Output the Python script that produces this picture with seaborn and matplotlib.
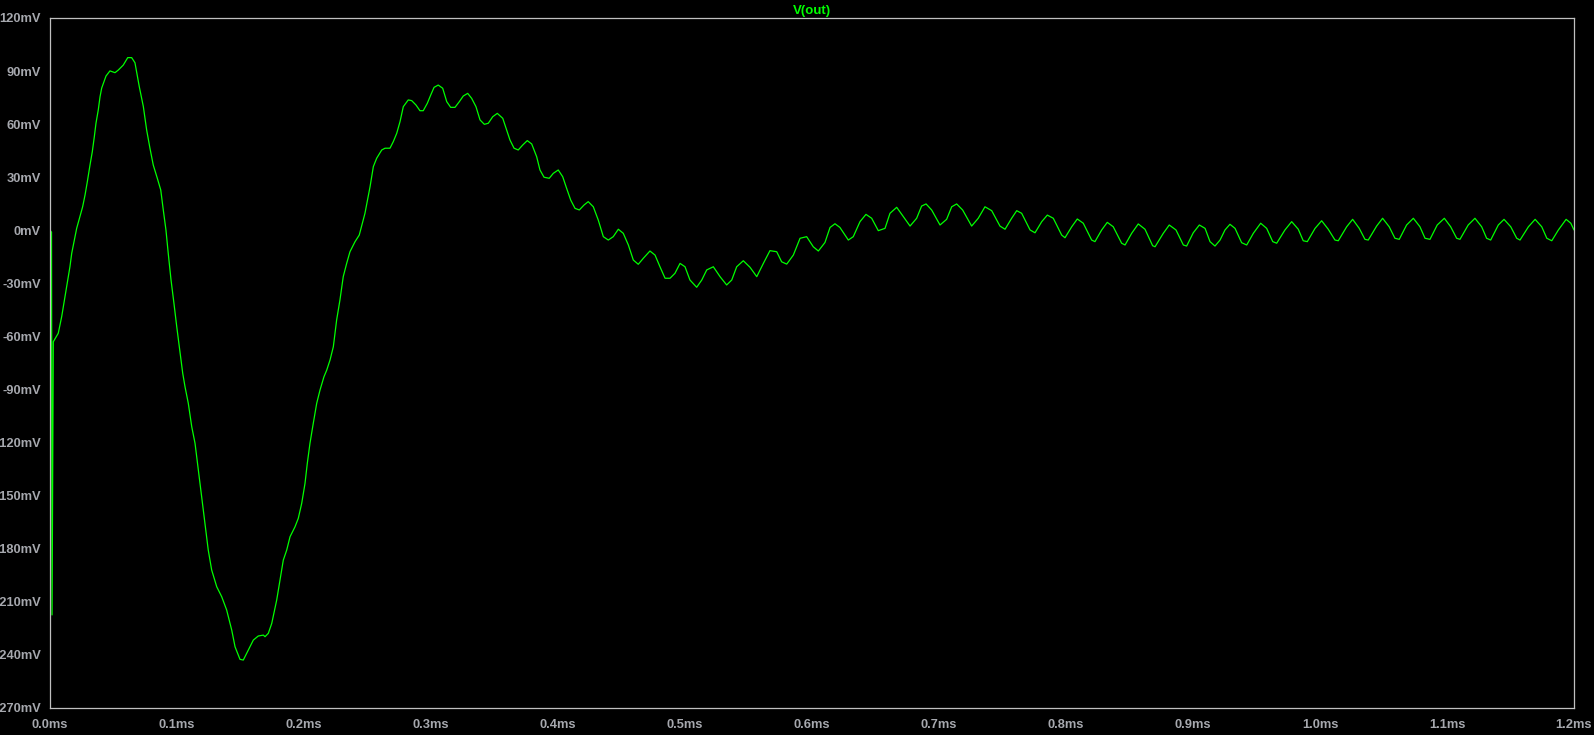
import numpy as np
import pandas as pd
import matplotlib
matplotlib.use("Agg")
import matplotlib.pyplot as plt
import seaborn as sns

# ---- data (time in microseconds, voltage in mV) ----
time_us = [
    0.0, 1.2, 1.6, 2.6, 6.5, 9.2, 11.8, 13.4, 15.7, 17.1, 18.9, 21.0, 22.8, 24.4, 25.7,
    27.6, 29.4, 31.5, 33.3, 34.9, 36.2, 38.0, 39.4, 40.7, 44.1, 47.2, 51.2, 53.8, 57.7,
    61.2, 64.3, 66.9, 70.3, 73.5, 76.1, 78.7, 81.3, 84.5, 87.2, 89.2, 91.3, 93.1, 95.3,
    97.6, 99.8, 101.8, 104.5, 106.3, 108.9, 111.6, 114.2, 116.8, 119.4, 122.0, 124.6,
    127.3, 131.3, 135.2, 139.1, 143.1, 145.7, 149.6, 152.2, 156.1, 160.1, 164.0, 168.0,
    169.3, 171.9, 174.6, 178.5, 181.1, 183.7, 186.4, 189.0, 192.9, 195.5, 198.2, 200.8,
    202.6, 204.7, 207.3, 210.0, 212.6, 215.7, 217.9, 220.5, 223.1, 225.7, 228.3, 230.9,
    233.6, 236.2, 240.2, 243.5, 248.0, 252.0, 254.6, 257.2, 261.2, 263.8, 267.7, 270.3,
    273.0, 275.6, 278.2, 282.1, 284.8, 288.2, 291.3, 293.9, 297.1, 299.8, 302.4, 305.7,
    309.2, 312.4, 315.5, 318.9, 322.3, 325.4, 328.9, 332.0, 335.4, 338.6, 342.0, 345.1,
    348.6, 352.2, 356.5, 359.6, 362.2, 365.4, 368.7, 372.2, 375.8, 379.3, 383.2, 385.8,
    389.0, 393.1, 396.3, 400.2, 403.7, 406.8, 410.0, 413.4, 416.8, 420.5, 423.8, 427.8,
    431.7, 435.7, 439.6, 443.5, 447.5, 451.4, 455.4, 459.3, 463.2, 467.2, 472.4, 476.4,
    480.3, 484.3, 488.2, 492.1, 496.1, 500.0, 503.9, 509.2, 513.2, 517.1, 522.3, 527.6,
    532.8, 536.8, 540.7, 545.9, 551.2, 556.5, 561.7, 566.9, 572.2, 576.1, 580.1, 585.3,
    590.6, 595.8, 601.0, 605.0, 610.2, 614.2, 618.1, 622.0, 628.6, 632.5, 637.8, 642.5,
    647.0, 652.2, 657.5, 661.4, 666.7, 671.9, 677.2, 682.4, 686.3, 689.8, 694.2, 700.8,
    706.0, 710.0, 713.9, 718.6, 725.7, 730.9, 736.2, 741.5, 748.0, 752.0, 757.2, 761.2,
    765.1, 771.7, 775.6, 780.9, 785.3, 790.0, 796.6, 799.2, 804.5, 808.9, 813.6, 820.2,
    822.8, 828.1, 832.5, 837.2, 843.8, 846.5, 851.7, 856.9, 862.2, 868.2, 870.1, 876.6,
    881.3, 886.6, 892.4, 895.0, 900.2, 905.0, 909.5, 913.4, 917.3, 921.3, 925.2, 929.1,
    933.1, 938.3, 942.3, 947.5, 953.3, 958.0, 962.8, 965.9, 972.4, 977.7, 982.9, 986.8,
    990.0, 996.1, 1001.3, 1006.5, 1011.8, 1014.4, 1021.0, 1025.7, 1030.9, 1035.4, 1038.0,
    1044.6, 1049.3, 1054.5, 1059.0, 1062.4, 1068.2, 1073.5, 1078.7, 1082.7, 1086.6,
    1092.3, 1097.9, 1102.9, 1107.6, 1110.2, 1116.7, 1122.0, 1127.3, 1131.2, 1134.4,
    1140.4, 1144.9, 1150.2, 1154.9, 1157.5, 1164.1, 1169.4, 1174.6, 1178.6, 1182.5,
    1187.7, 1193.8, 1197.5, 1200.0,
]
v_out_mV = [
    0.0, -1.0, -217.4, -63.0, -58.2, -48.8, -37.5, -30.9, -20.6, -13.0, -6.4, 1.1, 5.8, 9.9, 13.3,
    20.0, 27.5, 36.9, 44.4, 52.9, 60.5, 68.0, 75.5, 80.4, 87.2, 90.1, 89.1, 90.6, 93.4,
    97.6, 97.6, 94.7, 81.2, 69.9, 56.7, 46.4, 36.9, 29.4, 22.8, 11.5, 0.2, -13.0, -28.1,
    -41.3, -54.5, -65.8, -80.8, -88.4, -97.8, -111.0, -120.4, -135.5, -150.6, -165.6, -180.7,
    -192.0, -201.5, -207.1, -214.6, -226.0, -235.4, -242.5, -242.9, -237.3, -231.6, -229.3, -228.8,
    -229.7, -227.8, -222.2, -209.0, -197.7, -186.4, -180.7, -173.2, -167.6, -162.8, -154.3, -143.0,
    -131.7, -120.4, -109.1, -97.8, -90.3, -82.8, -79.0, -73.3, -65.8, -50.7, -39.4, -26.2,
    -18.7, -12.1, -6.4, -2.7, 9.6, 24.6, 36.0, 40.7, 45.4, 46.4, 46.4, 50.1,
    54.8, 61.4, 69.9, 73.7, 73.3, 70.8, 67.6, 67.6, 71.8, 76.5, 80.8, 82.1,
    80.3, 72.7, 69.5, 69.5, 72.7, 75.9, 77.4, 74.6, 69.9, 62.4, 59.9, 60.5,
    64.2, 66.1, 63.3, 56.7, 51.0, 46.4, 45.4, 48.2, 50.7, 48.8, 41.6, 34.1,
    30.0, 29.4, 32.2, 34.1, 30.3, 23.7, 17.1, 12.4, 11.5, 14.3, 16.2, 13.3,
    5.8, -3.6, -5.5, -3.6, 0.6, -1.7, -8.3, -16.8, -19.2, -15.8, -11.7, -14.0,
    -20.6, -27.1, -27.1, -24.3, -18.7, -20.6, -28.1, -32.2, -28.1, -22.4, -20.6, -26.2,
    -30.9, -28.1, -20.6, -17.2, -20.9, -26.2, -18.7, -11.5, -12.1, -17.8, -19.1, -14.0,
    -4.5, -3.6, -9.3, -11.7, -6.9, 1.6, 3.7, 1.6, -5.5, -3.6, 4.9, 9.0,
    6.8, -0.2, 1.1, 9.6, 13.0, 7.7, 2.4, 6.8, 13.7, 14.9, 11.5, 3.0,
    6.2, 13.3, 14.9, 11.5, 2.4, 6.8, 13.3, 11.1, 2.4, 0.6, 6.8, 11.1,
    9.6, 0.2, -1.4, 4.9, 8.6, 6.8, -2.7, -4.2, 2.0, 6.4, 4.0, -5.5,
    -6.4, 0.2, 4.5, 2.0, -7.3, -8.3, -1.7, 3.6, 0.6, -8.7, -9.3, -1.7,
    3.0, 0.2, -8.3, -8.9, -1.4, 3.0, 1.1, -6.4, -8.9, -5.5, 0.2, 3.4,
    1.1, -7.0, -8.3, -1.7, 4.0, 1.1, -6.4, -7.3, 0.2, 4.9, 0.6, -5.9,
    -6.4, 1.1, 5.4, 0.6, -5.5, -5.9, 2.0, 6.2, 1.1, -5.1, -5.5,
    2.4, 6.8, 2.0, -4.5, -5.1, 3.0, 6.8, 2.0, -4.5, -5.1,
    3.0, 6.8, 2.0, -4.5, -5.1, 3.0, 6.8, 2.0, -4.5, -5.5,
    3.0, 6.2, 2.0, -4.5, -5.5, 2.0, 6.2, 2.0, -4.5, -5.9,
    0.2, 6.2, 4.0, 0.2,
]
y_ticks_mV = [120, 90, 60, 30, 0, -30, -60, -90, -120, -150, -180, -210, -240, -270]
x_ticks_ms = [0.0, 0.1, 0.2, 0.3, 0.4, 0.5, 0.6, 0.7, 0.8, 0.9, 1.0, 1.1, 1.2]
trace_name = "V(out)"

df = pd.DataFrame({"t_ms": np.array(time_us) / 1000.0, "v": v_out_mV})

sns.set_theme(style="dark")
plt.rcParams["font.family"] = ["Liberation Sans", "DejaVu Sans"]

W, H = 1594, 735
fig = plt.figure(figsize=(W / 100, H / 100), dpi=100, facecolor="black")
ax = fig.add_axes([50 / W, 1 - 708 / H, (1574 - 50) / W, (708 - 18) / H])
ax.set_facecolor("black")

trace_color = "#00ff00"
axis_color = "#c0c0c0"
label_color = "#a6a8ae"

sns.lineplot(data=df, x="t_ms", y="v", ax=ax, color=trace_color, linewidth=0.9,
             sort=False, estimator=None, legend=False)

ax.set_xlim(0, 1.2)
ax.set_ylim(-270, 120)
ax.set_xticks(x_ticks_ms)
ax.set_xticklabels([f"{v:.1f}ms" for v in x_ticks_ms])
ax.set_yticks(y_ticks_mV)
ax.set_yticklabels([f"{v}mV" for v in y_ticks_mV])
ax.grid(False)
ax.set_xlabel("")
ax.set_ylabel("")

for s in ax.spines.values():
    s.set_visible(True)
    s.set_color(axis_color)
    s.set_linewidth(0.9)

ax.tick_params(axis="both", which="major", direction="out", color=axis_color,
               width=0.9, labelcolor=label_color, labelsize=9.3)
ax.tick_params(axis="y", length=5.5, pad=1)
ax.tick_params(axis="x", length=6, pad=2)
for lab in ax.get_xticklabels() + ax.get_yticklabels():
    lab.set_fontweight("bold")

ax.set_title(trace_name, color=trace_color, fontsize=9.5, fontweight="bold", pad=3)

fig.savefig("out.png", dpi=100, facecolor="black")
